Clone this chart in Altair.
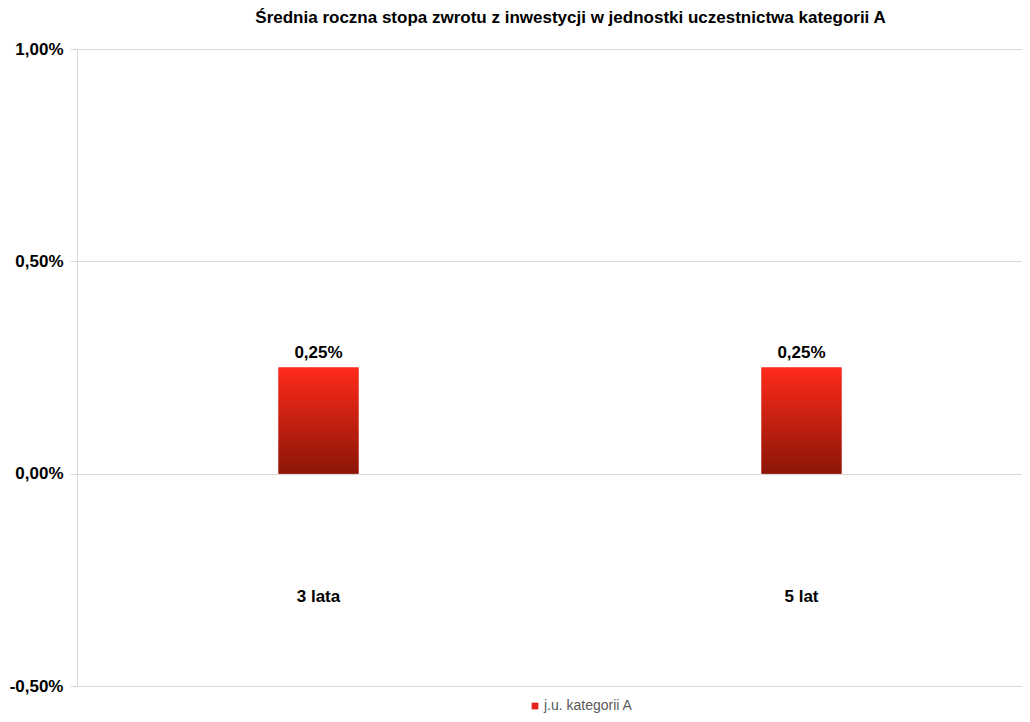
import altair as alt
import pandas as pd

categories = ["3 lata", "5 lat"]
values = [0.25, 0.25]
series_name = "j.u. kategorii A"
y_ticks = [-0.5, 0.0, 0.5, 1.0]
title_text = "Średnia roczna stopa zwrotu z inwestycji  w jednostki uczestnictwa kategorii A"

df = pd.DataFrame({"okres": categories, "wartosc": values, "seria": [series_name] * len(categories)})

FONT = "Liberation Sans"
W, H = 945, 637
LBL = "replace(replace(format(datum.value, '.2f'), '.', ','), '\u2212', '-') + '%'"

x_enc = alt.X(
    "okres:N",
    sort=categories,
    scale=alt.Scale(range=[0, 966], paddingInner=0, paddingOuter=0),
    axis=alt.Axis(
        title=None, domain=False, ticks=False, labelAngle=0,
        labelPadding=-98, labelFont=FONT, labelFontSize=17,
        labelFontWeight="bold", labelColor="#000000", grid=False,
    ),
)
y_enc = alt.Y(
    "wartosc:Q",
    scale=alt.Scale(domain=[-0.5, 1.0], nice=False, zero=False),
    axis=alt.Axis(
        title=None, values=y_ticks, grid=True, gridColor="#d9d9d9",
        domain=True, domainColor="#d9d9d9", ticks=True, tickColor="#d9d9d9",
        tickSize=7, labelPadding=7, labelFont=FONT, labelFontSize=17,
        labelFontWeight="bold", labelColor="#000000",
        labelExpr=LBL,
    ),
)

legend_bars = alt.Chart(df).mark_bar(size=80).encode(
    x=x_enc, y=y_enc,
    color=alt.Color(
        "seria:N",
        scale=alt.Scale(range=["#e3231a"]),
        legend=alt.Legend(
            title=None, orient="none", legendX=449, legendY=648,
            symbolType="square", symbolSize=45, symbolStrokeWidth=0,
            labelFont=FONT, labelFontSize=14, labelColor="#595959",
            labelOffset=2, padding=2,
        ),
    ),
)

grad = alt.LinearGradient(
    gradient="linear",
    stops=[alt.GradientStop(color="#ff2a1a", offset=0), alt.GradientStop(color="#8a1608", offset=1)],
    x1=0, x2=0, y1=0, y2=1,
)
bars = alt.Chart(df).mark_bar(size=80, color=grad).encode(x=x_enc, y=y_enc)

labels = alt.Chart(df).transform_calculate(
    lab="replace(format(datum.wartosc, '.2f'), '.', ',') + '%'"
).mark_text(
    font=FONT, fontSize=17, fontWeight="bold", color="#000000",
    baseline="bottom", dy=-6,
).encode(x=x_enc, y=y_enc, text="lab:N")

chart = alt.layer(legend_bars, bars, labels).properties(
    width=W, height=H,
    title=alt.TitleParams(
        text=title_text, font=FONT, fontSize=17, fontWeight="bold",
        color="#000000", anchor="middle", dx=21, offset=13,
    ),
    autosize=alt.AutoSizeParams(type="none"),
    padding={"left": 69, "top": 41, "right": 0, "bottom": 28},
).configure_view(stroke=None).configure(background="#ffffff")

chart.save("out.html", embed_options={"renderer": "svg", "actions": False})
